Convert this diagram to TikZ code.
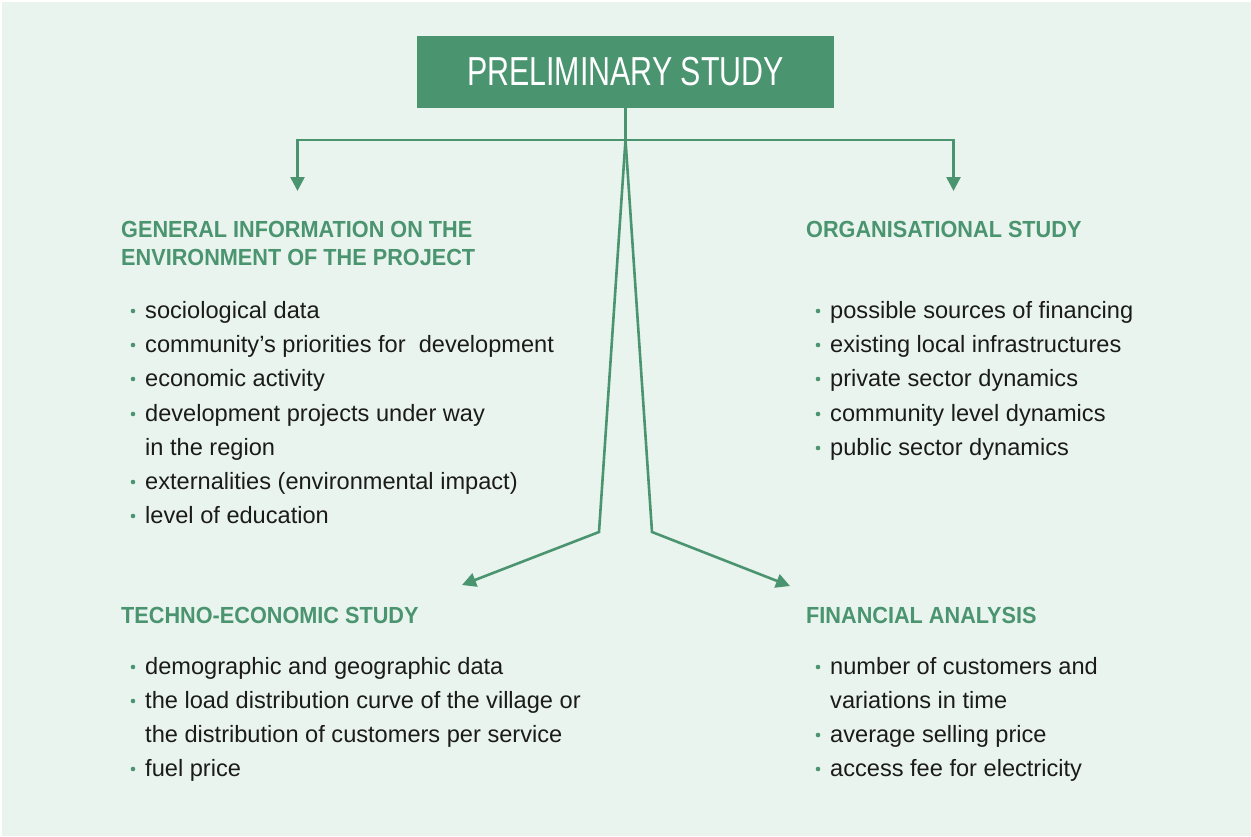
\documentclass[tikz,border=0pt]{standalone}
\usepackage{fontspec}
\setmainfont{Liberation Sans}
\newfontfamily\titlefont[FakeStretch=0.75]{Liberation Sans}
\newfontfamily\headfont[FakeStretch=0.93]{Liberation Sans Bold}
\usetikzlibrary{arrows.meta}
\definecolor{leaf}{HTML}{4A9470}
\definecolor{paper}{HTML}{EAF4EE}
\definecolor{ink}{HTML}{1B1B1B}
\tikzset{
  x=1pt, y=-1pt,
  link/.style={draw=leaf, line width=2.6pt, line join=miter},
  arrowlink/.style={link, -{Triangle[length=14pt, width=14pt]}},
  titlebox/.style={fill=leaf, text=white, minimum width=417pt, minimum height=72pt,
    inner sep=0pt, font=\titlefont\fontsize{40.5}{44}\selectfont},
  heading/.style={anchor=base west, inner sep=0pt, text=leaf, align=left,
    font=\headfont\fontsize{23.3}{28}\selectfont},
  entry/.style={anchor=base west, inner sep=0pt, text=ink,
    font=\fontsize{23.6}{27}\selectfont},
  dot/.style={fill=leaf}
}
\newcommand{\bulletat}[2]{\fill[dot] (#1,#2-7) circle (2.3pt);}
\begin{document}
\begin{tikzpicture}
\useasboundingbox (0,0) rectangle (1251,836);
\fill[white] (0,0) rectangle (1251,836);
\fill[paper] (2,2) rectangle (1251,836);

% title box
\node[titlebox] (top) at (625.5,72) {PRELIMINARY STUDY};

% headings (base anchor of a two-line heading sits on its last line)
\node[heading] (gen) at (121,265) {GENERAL INFORMATION ON THE\\ENVIRONMENT OF THE PROJECT};
\node[heading] (org) at (806,237) {ORGANISATIONAL STUDY};
\node[heading] (tec) at (121,623) {TECHNO-ECONOMIC STUDY};
\node[heading] (fin) at (806,623) {FINANCIAL ANALYSIS};

% connector points
\coordinate (hub) at (625.5,140);
\coordinate (genTip) at (297.5,191);
\coordinate (orgTip) at (953.5,191);
\coordinate (bendL) at (599,532);
\coordinate (bendR) at (652,532);
\coordinate (tecTip) at (462,585);
\coordinate (finTip) at (790,586);

\draw[link] (top.south) -- (hub);
\draw[arrowlink] (hub) -| (genTip);
\draw[arrowlink] (hub) -| (orgTip);
\draw[arrowlink] (hub) -- (bendL) -- (tecTip);
\draw[arrowlink] (hub) -- (bendR) -- (finTip);

% general information items
\bulletat{133}{318}\node[entry] (g1) at (145,318) {sociological data};
\bulletat{133}{352}\node[entry] (g2) at (145,352) {community’s priorities for\ \ development};
\bulletat{133}{386}\node[entry] (g3) at (145,386) {economic activity};
\bulletat{133}{421}\node[entry] (g4) at (145,421) {development projects under way};
\node[entry] (g4b) at (145,455) {in the region};
\bulletat{133}{489}\node[entry] (g5) at (145,489) {externalities (environmental impact)};
\bulletat{133}{523}\node[entry] (g6) at (145,523) {level of education};

% organisational items
\bulletat{818}{318}\node[entry] (o1) at (830,318) {possible sources of financing};
\bulletat{818}{352}\node[entry] (o2) at (830,352) {existing local infrastructures};
\bulletat{818}{386}\node[entry] (o3) at (830,386) {private sector dynamics};
\bulletat{818}{421}\node[entry] (o4) at (830,421) {community level dynamics};
\bulletat{818}{455}\node[entry] (o5) at (830,455) {public sector dynamics};

% techno-economic items
\bulletat{133}{674}\node[entry] (t1) at (145,674) {demographic and geographic data};
\bulletat{133}{708}\node[entry] (t2) at (145,708) {the load distribution curve of the village or};
\node[entry] (t2b) at (145,742) {the distribution of customers per service};
\bulletat{133}{776}\node[entry] (t3) at (145,776) {fuel price};

% financial items
\bulletat{818}{674}\node[entry] (f1) at (830,674) {number of customers and};
\node[entry] (f1b) at (830,708) {variations in time};
\bulletat{818}{742}\node[entry] (f2) at (830,742) {average selling price};
\bulletat{818}{776}\node[entry] (f3) at (830,776) {access fee for electricity};
\end{tikzpicture}
\end{document}
